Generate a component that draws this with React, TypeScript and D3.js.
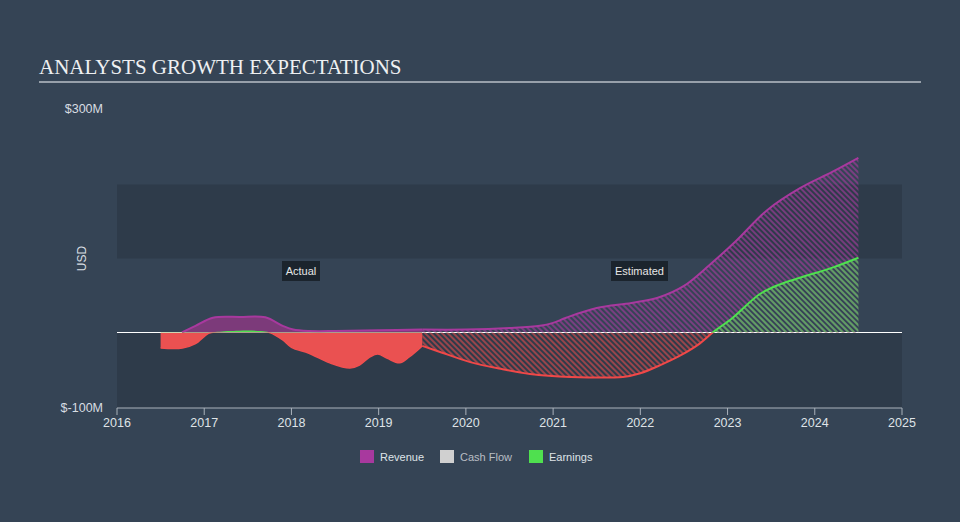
import React from "react";
import * as d3 from "d3";

const title = "ANALYSTS GROWTH EXPECTATIONS";
const yTickValues = [300, -100];
const yTickLabels = ["$300M", "$-100M"];
const xTickYears = [2016, 2017, 2018, 2019, 2020, 2021, 2022, 2023, 2024, 2025];
const legendNames = ["Revenue", "Cash Flow", "Earnings"];
const legendColors = ["#a8399e", "#d0d0d0", "#4fe04f"];

// Revenue (USD millions)
const revenueActualYears = [2016.745, 2016.9, 2017.1, 2017.41, 2017.7, 2017.9, 2018.02, 2018.21, 2018.5, 2019.0, 2019.5];
const revenueActualValues = [0, 9, 20, 21, 20.5, 9, 4, 2, 2, 3, 4];
const revenueEstYears = [2019.5, 2020.0, 2020.5, 2020.85, 2021.0, 2021.15, 2021.5, 2021.9, 2022.2, 2022.5, 2022.8, 2023.1, 2023.45, 2023.83, 2024.2, 2024.5];
const revenueEstValues = [4, 4, 6, 9, 13, 20, 33, 40, 47, 63, 92, 124, 165, 195, 217, 236];

// Earnings (USD millions)
const earningsActualYears = [2016.5, 2016.75, 2016.9, 2017.05, 2017.15, 2017.4, 2017.65, 2017.75, 2017.9, 2018.0, 2018.2, 2018.44, 2018.67, 2018.78, 2018.9, 2018.99, 2019.1, 2019.24, 2019.35, 2019.5];
const earningsActualValues = [-21, -21, -15, -1, 1, 2.5, 2, 0, -10, -20, -28, -41, -48, -44, -33, -29, -35, -41, -33, -18];
const earningsEstYears = [2019.5, 2019.72, 2020.05, 2020.4, 2020.735, 2021.2, 2021.8, 2022.0, 2022.23, 2022.46, 2022.68, 2022.83, 2023.06, 2023.37, 2023.6, 2023.83, 2024.21, 2024.5];
const earningsEstValues = [-18, -27, -40, -49, -56, -60, -60, -55, -44, -31, -15, 0, 20, 52, 65, 74, 88, 101];

const W = 960;
const H = 522;
const plotLeft = 117;
const plotRight = 902;

const x = d3.scaleLinear().domain([2016, 2025]).range([plotLeft, plotRight]);
const y = d3.scaleLinear().domain([-100, 300]).range([406.5, 110.5]);

type P = { t: number; v: number };
const zip = (a: number[], b: number[]): P[] => a.map((t, i) => ({ t, v: b[i] }));

const curve = d3.curveCatmullRom.alpha(0.5);
const area = d3
  .area<P>()
  .x((d) => x(d.t))
  .y0(() => y(0))
  .y1((d) => y(d.v))
  .curve(curve);
const line = d3
  .line<P>()
  .x((d) => x(d.t))
  .y((d) => y(d.v))
  .curve(curve);

export default function App() {
  const revA = zip(revenueActualYears, revenueActualValues);
  const revE = zip(revenueEstYears, revenueEstValues);
  const earnA = zip(earningsActualYears, earningsActualValues);
  const earnE = zip(earningsEstYears, earningsEstValues);
  const y0 = y(0);
  const bg = "#354455";
  const band = "#2e3b4a";
  const font = "'Liberation Sans', Arial, sans-serif";

  const hatch = (id: string, color: string) => (
    <pattern id={id} patternUnits="userSpaceOnUse" width={4} height={4} patternTransform="rotate(-45)">
      <line x1={1} y1={0} x2={1} y2={4} stroke={color} strokeWidth={1.6} strokeOpacity={0.75} />
    </pattern>
  );

  const legendX = [360, 440, 529];

  return (
    <div style={{ position: "fixed", left: 0, top: 0, width: W, height: H }}>
      <svg width={W} height={H} style={{ display: "block" }}>
        <defs>
          {hatch("hRev", "#a8399e")}
          {hatch("hRed", "#e04a4a")}
          {hatch("hGreen", "#4fe04f")}
          <clipPath id="above">
            <rect x={0} y={0} width={W} height={y0} />
          </clipPath>
          <clipPath id="below">
            <rect x={0} y={y0} width={W} height={H - y0} />
          </clipPath>
        </defs>
        <rect x={0} y={0} width={W} height={H} fill={bg} />

        <text x={39} y={74} fontFamily="'Liberation Serif', 'Times New Roman', serif" fontSize={21} fill="#eef0f2">
          {title}
        </text>
        <line x1={39} x2={921} y1={82} y2={82} stroke="#b8bfc7" strokeWidth={1.6} />

        {/* bands */}
        <rect x={plotLeft} y={y(200)} width={plotRight - plotLeft} height={y(100) - y(200)} fill={band} />
        <rect x={plotLeft} y={y(0)} width={plotRight - plotLeft} height={408 - y(0)} fill={band} />

        {/* y labels */}
        <text x={103} y={113} textAnchor="end" fontFamily={font} fontSize={12.5} fill="#d8dde2">
          {yTickLabels[0]}
        </text>
        <text x={103} y={412} textAnchor="end" fontFamily={font} fontSize={12.5} fill="#d8dde2">
          {yTickLabels[1]}
        </text>
        <text
          transform={`translate(86, ${(y(yTickValues[0]) + y(yTickValues[1])) / 2}) rotate(-90)`}
          textAnchor="middle"
          fontFamily={font}
          fontSize={12}
          fill="#d8dde2"
        >
          USD
        </text>

        {/* zero line */}
        <line x1={plotLeft} x2={plotRight} y1={y0} y2={y0} stroke="#ffffff" strokeWidth={1.2} />

        {/* Revenue actual */}
        <path d={area(revA) || ""} fill="#7c3a7a" />
        <path d={line(revA) || ""} fill="none" stroke="#a8399e" strokeWidth={2} />
        {/* Revenue estimate */}
        <path d={area(revE) || ""} fill="url(#hRev)" />
        <path d={line(revE) || ""} fill="none" stroke="#a8399e" strokeWidth={2} />

        {/* Earnings actual */}
        <g clipPath="url(#below)">
          <path d={area(earnA) || ""} fill="#ea5151" />
          <path d={line(earnA) || ""} fill="none" stroke="#f05050" strokeWidth={1.5} />
        </g>
        <g clipPath="url(#above)">
          <path d={area(earnA) || ""} fill="#4fe04f" />
        </g>
        {/* Earnings estimate */}
        <g clipPath="url(#below)">
          <path d={area(earnE) || ""} fill="url(#hRed)" />
          <path d={line(earnE) || ""} fill="none" stroke="#f04848" strokeWidth={2} />
        </g>
        <g clipPath="url(#above)">
          <path d={area(earnE) || ""} fill="url(#hGreen)" />
          <path d={line(earnE) || ""} fill="none" stroke="#4fe04f" strokeWidth={2} />
        </g>

        {/* Actual / Estimated labels */}
        <rect x={282} y={261} width={38} height={20} fill="#1b242d" />
        <text x={301} y={275} textAnchor="middle" fontFamily={font} fontSize={11} fill="#e6e6e6">
          Actual
        </text>
        <rect x={611} y={261} width={57} height={20} fill="#1b242d" />
        <text x={639.5} y={275} textAnchor="middle" fontFamily={font} fontSize={11} fill="#e6e6e6">
          Estimated
        </text>

        {/* x axis */}
        <line x1={plotLeft} x2={plotRight} y1={408} y2={408} stroke="#aab2bb" strokeWidth={1} />
        {xTickYears.map((yr) => (
          <g key={yr}>
            <line x1={x(yr)} x2={x(yr)} y1={408} y2={415} stroke="#aab2bb" strokeWidth={1} />
            <text x={x(yr)} y={427} textAnchor="middle" fontFamily={font} fontSize={12.5} fill="#dfe3e7">
              {yr}
            </text>
          </g>
        ))}

        {/* legend */}
        {legendNames.map((n, i) => (
          <g key={n}>
            <rect x={legendX[i]} y={450} width={14} height={13} fill={legendColors[i]} />
            <text x={legendX[i] + 20} y={461} fontFamily={font} fontSize={11} fill={i === 1 ? "#b9bec4" : "#dfe3e7"}>
              {n}
            </text>
          </g>
        ))}
      </svg>
    </div>
  );
}
